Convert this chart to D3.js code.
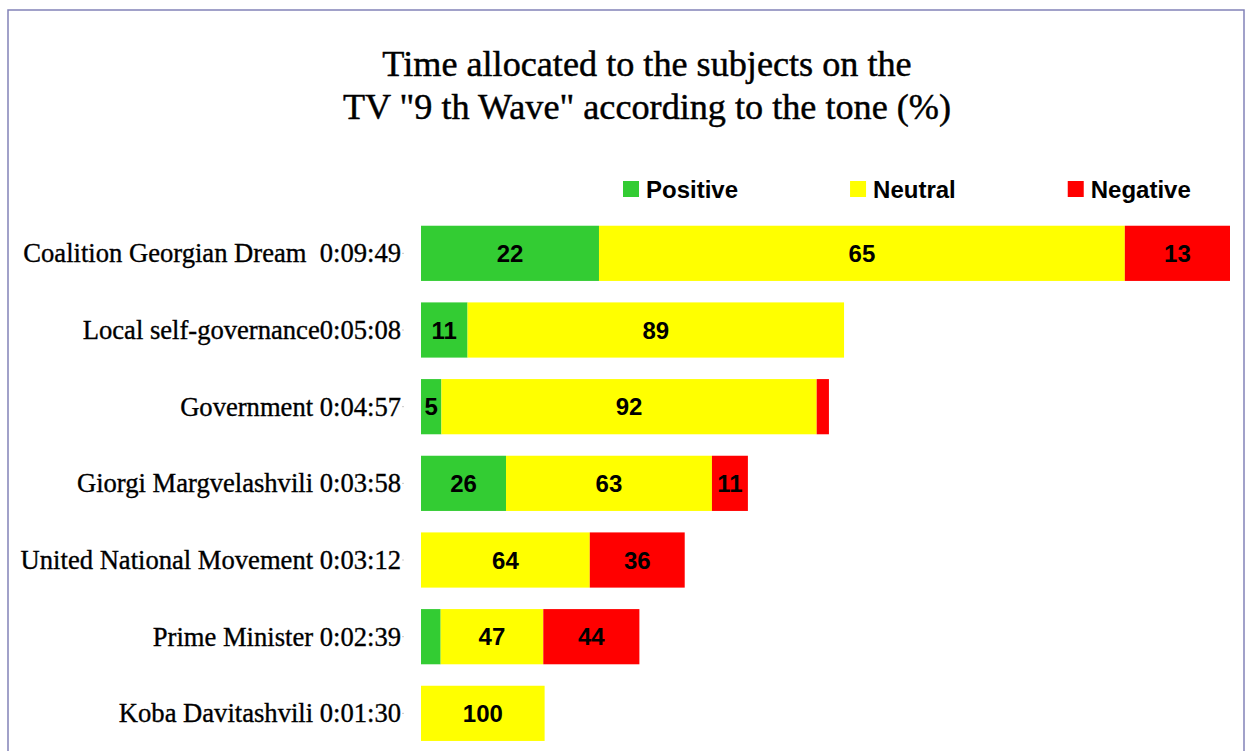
<!DOCTYPE html>
<html>
<head>
<meta charset="utf-8">
<script src="https://cdn.jsdelivr.net/npm/d3@7"></script>
<style>
  html, body { margin: 0; padding: 0; background: #fff; }
</style>
</head>
<body>
<svg id="svg1" width="1246" height="751"></svg>
<script>
// data
var subjects = ["Coalition Georgian Dream  0:09:49", "Local self-governance0:05:08", "Government 0:04:57",
                "Giorgi Margvelashvili 0:03:58", "United National Movement 0:03:12", "Prime Minister 0:02:39",
                "Koba Davitashvili 0:01:30"];
var seconds  = [589, 308, 297, 238, 192, 159, 90];
var positive = [22, 11, 5, 26, 0, 9, 0];
var neutral  = [65, 89, 92, 63, 64, 47, 100];
var negative = [13, 0, 3, 11, 36, 44, 0];
var tones = ["Positive", "Neutral", "Negative"];
var toneColors = ["#33cc33", "#ffff00", "#ff0000"];
var titleLines = ["Time allocated to the subjects on the", "TV \"9 th Wave\" according to the tone (%)"];

function draw(){
    var svg = d3.select("#svg1");

    // frame
    svg.append("rect")
        .attr("x", 8).attr("y", 10)
        .attr("width", 1236).attr("height", 760)
        .attr("fill", "#fff")
        .attr("stroke", "#8282b8")
        .attr("stroke-width", 1.5);

    // title
    var title = svg.append("text")
        .attr("text-anchor", "middle")
        .attr("font-family", "Liberation Serif, serif")
        .attr("font-size", 36.2)
        .attr("fill", "#000")
        .attr("stroke", "#000")
        .attr("stroke-width", 0.45);
    titleLines.forEach(function(t, i){
        title.append("tspan").attr("x", 647).attr("y", 76 + i * 43).text(t);
    });

    // rows: segment start / end in seconds
    var rows = subjects.map(function(s, i){
        var vals = [positive[i], neutral[i], negative[i]];
        var acc = 0;
        var segs = vals.map(function(v, k){
            var s0 = acc;
            acc += v;
            return {tone: k, pct: v, x0: seconds[i] * s0 / 100, x1: seconds[i] * acc / 100};
        });
        return {name: s, segs: segs};
    });

    var scaleY = d3.scaleBand()
        .domain(subjects)
        .range([215, 215 + 7 * 76.67])
        .paddingInner(0.28)
        .paddingOuter(0.14);

    var scaleX = d3.scaleLinear()
        .domain([0, 589])
        .range([421, 1230]);

    // category axis
    var axisY = d3.axisLeft(scaleY).tickSize(2).tickPadding(1);
    var gAxisY = svg.append("g").attr("transform", "translate(404,0)");
    gAxisY.call(axisY);
    gAxisY.select(".domain").remove();
    gAxisY.selectAll(".tick line").attr("stroke", "#c8c8c8");
    gAxisY.selectAll(".tick text")
        .attr("font-family", "Liberation Serif, serif")
        .attr("font-size", 26.6)
        .attr("fill", "#000")
        .attr("stroke", "#000")
        .attr("stroke-width", 0.35)
        .attr("dy", "0.34em")
        .attr("xml:space", "preserve");

    // bars
    var gRow = svg.append("g").selectAll("g")
        .data(rows).join("g")
        .attr("transform", function(d){ return "translate(0," + scaleY(d.name) + ")"; });

    gRow.selectAll("rect")
        .data(function(d){ return d.segs.filter(function(s){ return s.pct > 0; }); })
        .join("rect")
        .attr("x", function(s){ return scaleX(s.x0); })
        .attr("width", function(s){ return scaleX(s.x1) - scaleX(s.x0); })
        .attr("y", 0)
        .attr("height", scaleY.bandwidth())
        .attr("fill", function(s){ return toneColors[s.tone]; });

    gRow.selectAll("text")
        .data(function(d){
            return d.segs.filter(function(s){ return s.pct > 0 && scaleX(s.x1) - scaleX(s.x0) >= 20; });
        })
        .join("text")
        .attr("x", function(s){ return (scaleX(s.x0) + scaleX(s.x1)) / 2; })
        .attr("y", scaleY.bandwidth() / 2)
        .attr("dy", "0.36em")
        .attr("text-anchor", "middle")
        .attr("font-family", "Liberation Sans, Arial, sans-serif")
        .attr("font-weight", "bold")
        .attr("font-size", 24)
        .attr("fill", "#000")
        .text(function(s){ return s.pct; });

    // legend
    var gLegend = svg.append("g").attr("transform", "translate(623,189)");
    var lx = 0;
    tones.forEach(function(t, i){
        var g = gLegend.append("g").attr("transform", "translate(" + lx + ",0)");
        g.append("rect")
            .attr("x", 0).attr("y", -8)
            .attr("width", 16).attr("height", 16)
            .attr("fill", toneColors[i]);
        var txt = g.append("text")
            .attr("x", 23).attr("y", 0)
            .attr("dy", "0.36em")
            .attr("font-family", "Liberation Sans, Arial, sans-serif")
            .attr("font-weight", "bold")
            .attr("font-size", 24)
            .attr("fill", "#000")
            .text(t);
        lx += 23 + txt.node().getComputedTextLength() + 112;
    });
}
draw();
</script>
</body>
</html>
